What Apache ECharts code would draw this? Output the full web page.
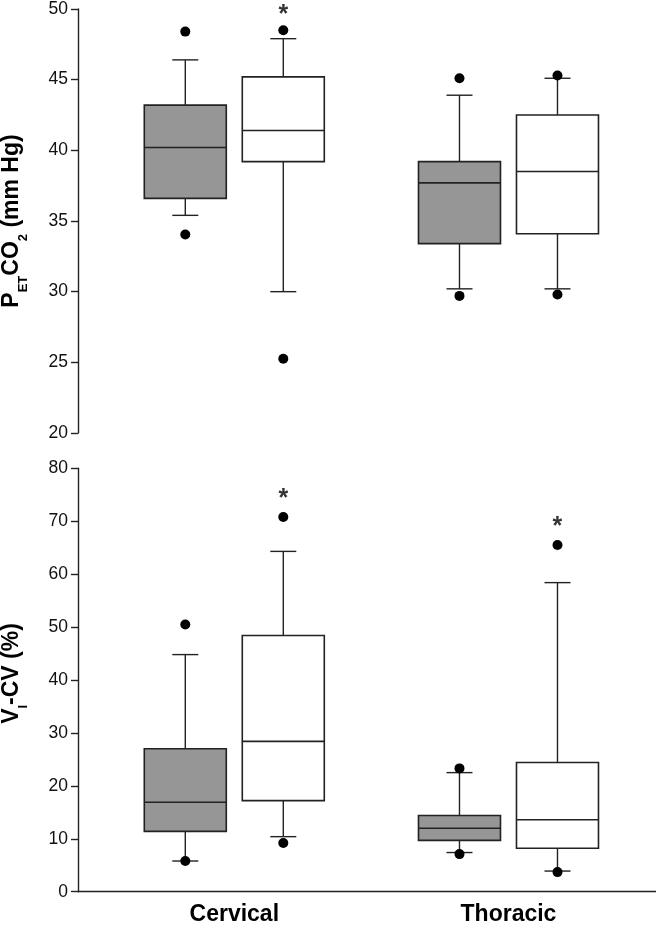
<!DOCTYPE html>
<html>
<head>
<meta charset="utf-8">
<script src="https://cdn.jsdelivr.net/npm/echarts@6/dist/echarts.min.js"></script>
<style>
html,body{margin:0;padding:0;background:#fff;}
#chart{width:656px;height:930px;}
</style>
</head>
<body>
<div id="chart"></div>
<script>
// ---------- DATA ----------
const categories = ['Cervical', 'Thoracic'];

// box stats: [lower whisker, Q1, median, Q3, upper whisker], one row per category
const petGreyStats  = [[35.4, 36.6, 40.2, 43.2, 46.4], [30.2, 33.4, 37.7, 39.2, 43.9]];
const petWhiteStats = [[30.0, 39.2, 41.4, 45.2, 47.9], [30.2, 34.1, 38.5, 42.5, 45.1]];
const petGreyOutliers  = [[0, 48.4], [0, 34.05], [1, 45.1], [1, 29.7]];
const petWhiteOutliers = [[0, 48.5], [0, 25.25], [1, 45.3], [1, 29.8]];
const petSignificance  = [[0, 50.0]];          // '*' above white box

const cvGreyStats  = [[5.8, 11.4, 16.9, 27.0, 44.8], [7.4, 9.7, 12.0, 14.4, 22.5]];
const cvWhiteStats = [[10.4, 17.2, 28.4, 48.4, 64.3], [3.9, 8.2, 13.6, 24.4, 58.4]];
const cvGreyOutliers  = [[0, 50.5], [0, 5.8], [1, 23.3], [1, 7.1]];
const cvWhiteOutliers = [[0, 70.8], [0, 9.2], [1, 65.5], [1, 3.7]];
const cvSignificance  = [[0, 75.3], [1, 70.0]];

const petTicks = {min: 20, max: 50, interval: 5};
const cvTicks  = {min: 0, max: 80, interval: 10};

// ---------- STYLE / LAYOUT ----------
const DODGE = 49;        // px offset of each box from category centre
const BOX_W = 82;
const CAP_W = 26;
const GREY = '#969696';
const INK = '#222222';
const X_MIN = -0.57, X_MAX = 1.538;
const FONT = 'Liberation Sans, Arial, sans-serif';

function withIndex(stats) { return stats.map((s, i) => [i].concat(s)); }

function boxRender(offset, fill) {
  return function (params, api) {
    const x = api.value(0);
    const pLo = api.coord([x, api.value(1)]);
    const pQ1 = api.coord([x, api.value(2)]);
    const pMd = api.coord([x, api.value(3)]);
    const pQ3 = api.coord([x, api.value(4)]);
    const pHi = api.coord([x, api.value(5)]);
    const cx = pLo[0] + offset;
    const lineStyle = {stroke: INK, lineWidth: 1.4, fill: null};
    return {
      type: 'group',
      children: [
        {type: 'line', shape: {x1: cx, y1: pHi[1], x2: cx, y2: pQ3[1]}, style: lineStyle},
        {type: 'line', shape: {x1: cx, y1: pQ1[1], x2: cx, y2: pLo[1]}, style: lineStyle},
        {type: 'line', shape: {x1: cx - CAP_W / 2, y1: pHi[1], x2: cx + CAP_W / 2, y2: pHi[1]}, style: lineStyle},
        {type: 'line', shape: {x1: cx - CAP_W / 2, y1: pLo[1], x2: cx + CAP_W / 2, y2: pLo[1]}, style: lineStyle},
        {type: 'rect', shape: {x: cx - BOX_W / 2, y: pQ3[1], width: BOX_W, height: pQ1[1] - pQ3[1]},
          style: {fill: fill, stroke: INK, lineWidth: 1.6}},
        {type: 'line', shape: {x1: cx - BOX_W / 2, y1: pMd[1], x2: cx + BOX_W / 2, y2: pMd[1]},
          style: {stroke: INK, lineWidth: 1.6}}
      ]
    };
  };
}

function boxSeries(stats, offset, fill, axisIdx) {
  return {
    type: 'custom', xAxisIndex: axisIdx, yAxisIndex: axisIdx,
    data: withIndex(stats), encode: {x: 0, y: [1, 2, 3, 4, 5]},
    renderItem: boxRender(offset, fill), clip: false, silent: true, z: 2
  };
}
function outlierSeries(data, offset, axisIdx) {
  return {
    type: 'scatter', xAxisIndex: axisIdx, yAxisIndex: axisIdx, data: data,
    symbol: 'circle', symbolSize: 10, symbolOffset: [offset, 0],
    itemStyle: {color: '#000', opacity: 1}, clip: false, silent: true, z: 5
  };
}
function sigSeries(data, offset, axisIdx) {
  return {
    type: 'scatter', xAxisIndex: axisIdx, yAxisIndex: axisIdx, data: data,
    symbol: 'circle', symbolSize: 0, clip: false, silent: true, z: 5,
    label: {show: true, position: 'inside', formatter: '*', offset: [offset, 6],
      fontSize: 25, fontWeight: 'bold', color: '#000', fontFamily: FONT}
  };
}

const nameRich = {
  m: {fontSize: 23, fontWeight: 'bold', color: '#000', lineHeight: 24, verticalAlign: 'top', fontFamily: FONT},
  s: {fontSize: 13, fontWeight: 'bold', color: '#000', lineHeight: 13, verticalAlign: 'top',
      padding: [17, 0, 0, 0], fontFamily: FONT}
};

function yAxisCfg(gridIndex, ticks, name, namePad) {
  return {
    type: 'value', gridIndex: gridIndex, min: ticks.min, max: ticks.max, interval: ticks.interval,
    name: name, nameLocation: 'middle', nameGap: 54, nameRotate: 90,
    nameTextStyle: {rich: nameRich, padding: namePad},
    axisLine: {show: true, onZero: false, lineStyle: {color: INK, width: 1.4}},
    axisTick: {show: true, length: 7, lineStyle: {color: INK, width: 1.4}},
    axisLabel: {margin: 10, fontSize: 17.5, color: '#111', fontFamily: FONT},
    splitLine: {show: false}
  };
}

const chart = echarts.init(document.getElementById('chart'), null, {renderer: 'canvas'});
chart.setOption({
  animation: false,
  backgroundColor: '#fff',
  grid: [
    {left: 78, right: 0, top: 9, height: 424, containLabel: false, outerBoundsMode: 'none'},
    {left: 78, right: 0, top: 468.3, height: 423.4, containLabel: false, outerBoundsMode: 'none'}
  ],
  xAxis: [
    {type: 'value', gridIndex: 0, min: X_MIN, max: X_MAX, show: false},
    {type: 'value', gridIndex: 1, min: X_MIN, max: X_MAX,
      axisLine: {show: true, onZero: false, lineStyle: {color: INK, width: 1.4}},
      axisTick: {show: false}, splitLine: {show: false},
      axisLabel: {customValues: [0, 1], formatter: v => categories[Math.round(v)] || '',
        margin: 11, fontSize: 23, fontWeight: 'bold', color: '#000', fontFamily: FONT}}
  ],
  yAxis: [
    yAxisCfg(0, petTicks, '{m|P}{s|ET}{m|CO}{s|2}{m| (mm Hg)}', [0, 0, 0, 0]),
    yAxisCfg(1, cvTicks, '{m|V}{s|I}{m|-CV (%)}', [0, 0, 0, 13])
  ],
  series: [
    boxSeries(petGreyStats, -DODGE, GREY, 0),
    boxSeries(petWhiteStats, DODGE, '#ffffff', 0),
    outlierSeries(petGreyOutliers, -DODGE, 0),
    outlierSeries(petWhiteOutliers, DODGE, 0),
    sigSeries(petSignificance, DODGE, 0),
    boxSeries(cvGreyStats, -DODGE, GREY, 1),
    boxSeries(cvWhiteStats, DODGE, '#ffffff', 1),
    outlierSeries(cvGreyOutliers, -DODGE, 1),
    outlierSeries(cvWhiteOutliers, DODGE, 1),
    sigSeries(cvSignificance, DODGE, 1)
  ]
});
</script>
</body>
</html>
